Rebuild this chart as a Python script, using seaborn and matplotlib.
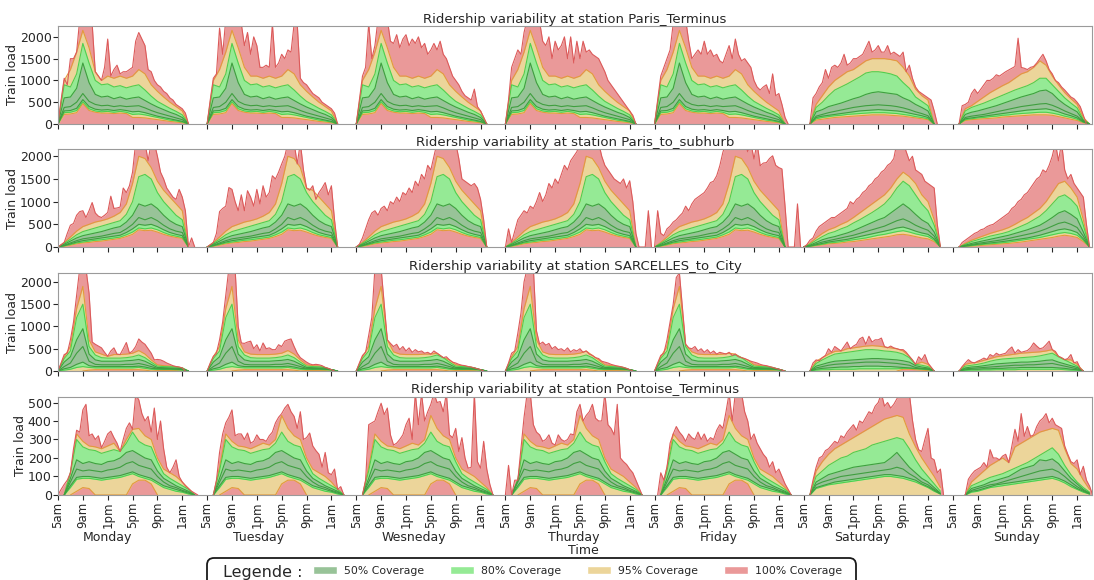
import numpy as np
import matplotlib
matplotlib.use("Agg")
import matplotlib.pyplot as plt
import matplotlib.transforms as mtransforms
from matplotlib.patches import FancyBboxPatch, Patch
import seaborn as sns

# ----------------------------------------------------
# Data
# max lines: half-hour steps from 5am (t = 0, 0.5, 1, ...), zero padded
# quantile lines: hourly steps from 5am (t = 0 .. 22)
# ----------------------------------------------------
day_names = ["Monday", "Tuesday", "Wesneday", "Thurday", "Friday", "Saturday", "Sunday"]
tick_hours = [0, 4, 8, 12, 16, 20]
tick_names = ["5am", "9am", "1pm", "5pm", "9pm", "1am"]

# --- Paris_Terminus ---
pt_max_mon = [0, 550, 1050, 900, 1500, 1500, 1650, 2400, 2400, 2400, 2400, 2300, 1200, 1100, 1000, 1300, 1950, 1100, 1250, 1350, 1150, 1200, 1200, 1250, 1300, 1900, 2100, 1950, 1800, 1250, 1200, 1000, 900, 850, 750, 700, 600, 550, 450, 400, 350, 250, 0]
pt_max_tue = [0, 550, 1050, 1150, 2200, 1600, 2400, 2400, 2400, 2400, 2400, 2300, 1800, 2100, 1600, 2000, 1800, 1300, 1300, 1350, 1300, 2300, 1300, 1400, 1600, 1500, 1700, 1650, 2300, 2300, 1050, 950, 900, 800, 700, 650, 600, 500, 450, 400, 350, 250, 0]
pt_max_wed = [0, 550, 1100, 1300, 2300, 1500, 1800, 2400, 2400, 2400, 2400, 1900, 1850, 2050, 1750, 1950, 2050, 1800, 1950, 1850, 2000, 1750, 1850, 1600, 1700, 1850, 1700, 1900, 1600, 1500, 1300, 1100, 1000, 900, 750, 650, 600, 550, 800, 400, 300, 150, 0]
pt_max_thu = [0, 550, 1300, 1500, 1700, 1600, 2100, 2400, 2400, 2400, 2400, 2350, 1900, 1800, 2000, 1500, 1900, 1700, 1800, 2000, 1500, 2000, 1400, 1900, 1500, 1900, 1650, 1700, 1600, 1550, 1500, 1350, 1200, 1000, 900, 800, 700, 600, 500, 400, 300, 200, 0]
pt_max_fri = [0, 550, 1100, 1300, 1500, 1700, 2300, 2400, 2400, 2400, 2400, 1900, 1500, 1600, 1700, 1600, 1900, 1600, 1700, 1550, 1600, 1450, 1400, 1600, 1800, 1500, 1950, 1600, 1450, 1500, 1400, 1300, 1000, 850, 780, 850, 900, 700, 1150, 650, 700, 450, 150, 0]
pt_max_sat = [0, 0, 0, 600, 700, 850, 950, 1250, 1050, 1300, 1350, 1300, 1400, 1600, 1350, 1400, 1500, 1500, 1550, 1600, 1750, 1900, 1650, 1700, 1800, 1650, 1650, 1800, 1600, 1650, 1600, 1550, 1650, 1200, 1350, 1050, 850, 750, 700, 650, 600, 550, 300, 0]
pt_max_sun = [0, 0, 0, 420, 450, 500, 700, 800, 700, 800, 900, 1000, 1000, 1050, 1130, 1100, 1150, 1200, 1240, 1280, 1320, 1970, 1300, 1280, 1250, 1300, 1320, 1400, 1500, 1600, 1450, 1250, 1150, 1000, 950, 850, 780, 700, 620, 580, 500, 400, 200, 0]

pt_wk_hi95 = [0, 1000, 1250, 1650, 2150, 1750, 1300, 1100, 1100, 1050, 1100, 1050, 1100, 1250, 1150, 900, 750, 620, 500, 400, 300, 0, 0]
pt_wk_hi80 = [0, 900, 850, 1150, 1850, 1400, 1000, 900, 920, 850, 880, 830, 870, 900, 780, 640, 520, 440, 360, 290, 210, 0, 0]
pt_wk_hi50 = [0, 600, 620, 820, 1400, 950, 680, 620, 640, 580, 620, 570, 600, 620, 540, 460, 390, 330, 270, 220, 150, 0, 0]
pt_wk_med = [0, 380, 400, 500, 700, 520, 450, 420, 430, 400, 420, 400, 410, 420, 370, 310, 260, 220, 180, 140, 100, 0, 0]
pt_wk_lo50 = [0, 300, 310, 360, 560, 400, 340, 320, 330, 310, 330, 310, 280, 290, 260, 220, 180, 150, 120, 90, 60, 0, 0]
pt_wk_lo80 = [0, 260, 270, 310, 510, 350, 300, 280, 290, 270, 290, 270, 220, 230, 210, 180, 150, 120, 90, 70, 45, 0, 0]
pt_wk_lo95 = [0, 220, 230, 260, 470, 310, 270, 250, 250, 240, 250, 240, 150, 150, 140, 120, 100, 80, 60, 45, 30, 0, 0]

pt_sat_hi95 = [0, 0, 450, 650, 850, 1000, 1100, 1200, 1250, 1350, 1450, 1500, 1500, 1500, 1480, 1450, 1300, 1100, 800, 650, 550, 0, 0]
pt_sat_hi80 = [0, 0, 380, 500, 650, 780, 850, 920, 1000, 1080, 1170, 1200, 1200, 1180, 1150, 1100, 950, 820, 620, 520, 420, 0, 0]
pt_sat_hi50 = [0, 0, 280, 330, 400, 440, 480, 530, 580, 620, 680, 720, 740, 720, 700, 680, 600, 540, 450, 380, 300, 0, 0]
pt_sat_med = [0, 0, 180, 220, 260, 290, 320, 350, 380, 400, 420, 430, 440, 430, 420, 400, 370, 330, 280, 240, 190, 0, 0]
pt_sat_lo50 = [0, 0, 150, 180, 200, 220, 240, 260, 280, 300, 310, 320, 330, 320, 310, 300, 280, 250, 220, 190, 150, 0, 0]
pt_sat_lo80 = [0, 0, 120, 150, 170, 190, 200, 220, 230, 240, 250, 260, 260, 260, 250, 240, 220, 200, 170, 150, 120, 0, 0]
pt_sat_lo95 = [0, 0, 90, 110, 130, 150, 160, 170, 180, 190, 200, 210, 210, 210, 200, 190, 180, 160, 140, 120, 100, 0, 0]

pt_sun_hi95 = [0, 0, 350, 420, 520, 620, 720, 800, 880, 950, 1050, 1150, 1200, 1300, 1450, 1350, 1100, 900, 720, 580, 450, 150, 0]
pt_sun_hi80 = [0, 0, 300, 380, 430, 480, 540, 600, 660, 720, 780, 830, 880, 950, 1050, 1050, 900, 750, 600, 480, 370, 100, 0]
pt_sun_hi50 = [0, 0, 220, 270, 300, 340, 380, 420, 470, 520, 570, 620, 660, 700, 760, 780, 700, 560, 450, 360, 280, 80, 0]
pt_sun_med = [0, 0, 150, 180, 200, 220, 250, 280, 310, 340, 370, 400, 420, 440, 460, 470, 430, 370, 300, 240, 180, 60, 0]
pt_sun_lo50 = [0, 0, 120, 140, 160, 180, 200, 220, 240, 260, 280, 300, 320, 330, 340, 350, 320, 280, 230, 190, 140, 50, 0]
pt_sun_lo80 = [0, 0, 100, 120, 140, 150, 170, 180, 200, 210, 230, 240, 250, 260, 270, 270, 250, 220, 180, 150, 110, 40, 0]
pt_sun_lo95 = [0, 0, 80, 100, 110, 120, 130, 140, 160, 170, 180, 190, 200, 210, 210, 210, 200, 170, 140, 110, 80, 30, 0]

# --- Paris_to_subhurb ---
ps_max_mon = [0, 50, 100, 300, 480, 520, 700, 780, 800, 650, 800, 980, 750, 680, 650, 700, 760, 1120, 850, 860, 880, 1300, 1200, 1350, 1650, 2300, 2300, 2300, 2300, 1900, 2300, 2300, 2000, 1650, 1500, 1300, 1200, 1100, 1050, 1270, 1100, 800, 0, 200, 0]
ps_max_tue = [0, 50, 100, 300, 780, 850, 900, 1310, 1270, 1000, 800, 1150, 800, 1240, 1100, 900, 1270, 950, 1350, 1100, 1200, 1570, 1500, 1650, 1830, 2000, 2300, 2300, 2300, 1830, 2300, 1700, 1300, 1250, 1350, 1050, 1200, 1300, 1420, 1150, 1350, 600, 0]
ps_max_wed = [0, 60, 200, 400, 600, 750, 800, 700, 850, 900, 800, 1000, 950, 1100, 1000, 1200, 1150, 1300, 1200, 1450, 1350, 1600, 1500, 1800, 1700, 2000, 2300, 2300, 2300, 2300, 2300, 2300, 2300, 1950, 1500, 1450, 1400, 1350, 1400, 1300, 1050, 600, 0]
ps_max_thu = [0, 400, 100, 350, 600, 700, 800, 750, 900, 850, 1000, 1200, 1000, 1150, 1400, 1300, 1500, 1400, 1600, 1800, 1700, 1900, 2000, 2100, 2300, 2300, 2300, 2300, 2300, 2300, 2300, 2000, 1800, 1700, 1600, 1500, 1450, 1400, 1500, 1300, 1460, 1000, 300, 0, 0, 0, 800, 0]
ps_max_fri = [0, 800, 300, 250, 400, 460, 550, 600, 680, 750, 900, 800, 950, 1050, 1100, 1150, 1200, 1300, 1420, 1450, 1570, 1790, 2090, 2300, 2300, 2300, 2300, 2300, 2300, 2300, 2100, 2300, 1940, 2300, 1790, 1850, 1860, 1950, 2010, 1800, 1750, 1720, 900, 0, 0, 0, 950, 0]
ps_max_sat = [0, 50, 150, 200, 350, 450, 500, 550, 600, 650, 650, 700, 750, 800, 850, 1000, 950, 1050, 1100, 1200, 1250, 1350, 1400, 1500, 1550, 1650, 1700, 1800, 1850, 1950, 2300, 2300, 2300, 2100, 1900, 2000, 1700, 1650, 1600, 1450, 1400, 1350, 1300, 500, 0]
ps_max_sun = [0, 0, 0, 100, 150, 200, 250, 300, 330, 380, 400, 450, 480, 500, 550, 600, 650, 700, 750, 850, 900, 1000, 1050, 1150, 1200, 1300, 1400, 1500, 1550, 1700, 1650, 1800, 2000, 2300, 1900, 2300, 1700, 1500, 1600, 1400, 1300, 1200, 1100, 500, 0]

ps_wk_hi95 = [0, 100, 220, 350, 450, 500, 550, 580, 620, 680, 760, 950, 1400, 2000, 1950, 1750, 1450, 1250, 1100, 950, 800, 0, 0]
ps_wk_hi80 = [0, 80, 170, 270, 340, 380, 420, 460, 500, 540, 580, 720, 1000, 1550, 1600, 1500, 1200, 1000, 850, 700, 600, 0, 0]
ps_wk_hi50 = [0, 60, 130, 200, 250, 280, 310, 340, 380, 420, 450, 550, 700, 950, 900, 950, 850, 700, 580, 500, 450, 0, 0]
ps_wk_med = [0, 40, 90, 140, 180, 200, 220, 240, 270, 300, 320, 400, 500, 650, 600, 650, 580, 480, 400, 350, 320, 0, 0]
ps_wk_lo50 = [0, 30, 70, 110, 140, 160, 180, 200, 220, 240, 260, 320, 400, 500, 480, 500, 450, 380, 320, 280, 250, 0, 0]
ps_wk_lo80 = [0, 25, 55, 90, 110, 130, 150, 160, 180, 200, 220, 270, 330, 420, 400, 420, 380, 320, 270, 240, 210, 0, 0]
ps_wk_lo95 = [0, 15, 40, 70, 90, 100, 120, 130, 150, 170, 190, 230, 280, 380, 360, 370, 330, 280, 240, 210, 190, 0, 0]

ps_sat_hi95 = [0, 80, 200, 300, 380, 430, 500, 560, 650, 750, 850, 950, 1050, 1150, 1300, 1500, 1650, 1550, 1400, 1150, 1000, 600, 0]
ps_sat_hi80 = [0, 60, 150, 230, 300, 340, 400, 450, 530, 600, 680, 760, 850, 950, 1100, 1300, 1450, 1350, 1150, 950, 800, 480, 0]
ps_sat_hi50 = [0, 40, 100, 160, 200, 230, 270, 310, 360, 420, 480, 540, 600, 650, 750, 850, 950, 850, 720, 600, 520, 330, 0]
ps_sat_med = [0, 30, 70, 110, 140, 170, 200, 230, 260, 300, 340, 380, 420, 460, 520, 580, 620, 560, 480, 420, 370, 240, 0]
ps_sat_lo50 = [0, 20, 50, 80, 110, 130, 150, 170, 200, 230, 260, 290, 320, 350, 380, 420, 440, 400, 350, 310, 280, 180, 0]
ps_sat_lo80 = [0, 15, 40, 60, 90, 100, 120, 140, 160, 180, 200, 230, 260, 280, 310, 340, 360, 330, 290, 260, 230, 150, 0]
ps_sat_lo95 = [0, 10, 30, 50, 70, 80, 90, 110, 120, 140, 160, 180, 200, 220, 240, 270, 280, 260, 230, 200, 180, 120, 0]

ps_sun_hi95 = [0, 0, 80, 150, 200, 250, 300, 340, 380, 430, 500, 580, 650, 750, 850, 1000, 1200, 1400, 1450, 1300, 1100, 600, 0]
ps_sun_hi80 = [0, 0, 60, 120, 160, 200, 240, 270, 300, 340, 400, 460, 520, 600, 680, 800, 950, 1100, 1150, 1050, 900, 480, 0]
ps_sun_hi50 = [0, 0, 40, 80, 110, 140, 170, 200, 230, 260, 300, 340, 380, 430, 480, 560, 650, 750, 800, 720, 620, 330, 0]
ps_sun_med = [0, 0, 30, 55, 80, 100, 120, 140, 160, 190, 220, 250, 280, 310, 350, 400, 460, 520, 550, 500, 430, 240, 0]
ps_sun_lo50 = [0, 0, 20, 40, 60, 75, 90, 105, 120, 140, 160, 180, 200, 230, 260, 300, 340, 380, 400, 370, 320, 180, 0]
ps_sun_lo80 = [0, 0, 15, 30, 45, 60, 70, 80, 95, 110, 130, 150, 170, 190, 210, 240, 270, 300, 320, 300, 260, 150, 0]
ps_sun_lo95 = [0, 0, 10, 20, 30, 40, 50, 60, 70, 80, 95, 110, 130, 150, 170, 190, 210, 240, 260, 240, 210, 120, 0]

# --- SARCELLES_to_City ---
sc_max_mon = [0, 180, 370, 400, 700, 1100, 1700, 2300, 2300, 2300, 1750, 650, 600, 560, 520, 420, 330, 450, 520, 380, 370, 500, 640, 400, 450, 550, 720, 650, 600, 500, 400, 250, 260, 250, 220, 180, 150, 120, 100, 90, 70, 0]
sc_max_tue = [0, 180, 330, 400, 700, 1100, 1700, 2300, 2300, 2300, 1000, 630, 620, 650, 670, 500, 590, 450, 630, 500, 520, 480, 480, 590, 550, 670, 700, 720, 550, 400, 300, 250, 200, 160, 140, 150, 140, 120, 80, 60, 30, 0]
sc_max_wed = [0, 180, 350, 420, 800, 1200, 2300, 2300, 2300, 1500, 700, 620, 550, 600, 480, 550, 450, 520, 420, 480, 430, 450, 400, 420, 380, 450, 400, 350, 300, 320, 250, 200, 180, 150, 130, 120, 100, 90, 70, 50, 30, 0]
sc_max_thu = [0, 180, 400, 450, 850, 1300, 2000, 2300, 2300, 2300, 900, 600, 650, 580, 620, 500, 550, 480, 500, 450, 520, 430, 480, 450, 500, 420, 450, 380, 350, 300, 280, 220, 200, 180, 150, 130, 110, 100, 80, 60, 30, 0]
sc_max_fri = [0, 180, 350, 400, 700, 1100, 1500, 2100, 2200, 1400, 600, 520, 500, 550, 450, 500, 420, 480, 400, 450, 380, 420, 400, 380, 420, 350, 380, 320, 300, 280, 250, 220, 200, 180, 150, 130, 120, 100, 80, 60, 40, 20, 0]
sc_max_sat = [0, 0, 0, 180, 250, 230, 300, 350, 500, 420, 550, 500, 450, 550, 650, 500, 560, 600, 720, 760, 600, 780, 650, 700, 700, 740, 550, 520, 560, 520, 500, 480, 480, 420, 330, 250, 150, 320, 250, 370, 180, 90, 0]
sc_max_sun = [0, 0, 0, 100, 180, 255, 200, 180, 220, 250, 290, 260, 370, 330, 400, 360, 380, 400, 480, 540, 400, 480, 420, 440, 460, 520, 630, 560, 500, 520, 590, 670, 480, 440, 330, 300, 255, 280, 370, 180, 210, 60, 0]

sc_wk_hi95 = [0, 320, 550, 1400, 1900, 700, 430, 380, 370, 370, 370, 380, 400, 460, 380, 250, 140, 120, 110, 100, 80, 0, 0]
sc_wk_hi80 = [0, 280, 450, 1200, 1500, 550, 360, 300, 290, 290, 290, 300, 320, 360, 300, 200, 110, 100, 95, 90, 70, 0, 0]
sc_wk_hi50 = [0, 200, 320, 700, 950, 380, 250, 220, 220, 220, 220, 230, 240, 260, 220, 150, 80, 75, 70, 65, 50, 0, 0]
sc_wk_med = [0, 100, 180, 400, 550, 220, 150, 140, 140, 140, 140, 150, 150, 170, 140, 100, 60, 55, 55, 50, 40, 0, 0]
sc_wk_lo50 = [0, 50, 80, 150, 200, 120, 100, 100, 100, 100, 100, 100, 100, 110, 90, 60, 50, 45, 45, 40, 30, 0, 0]
sc_wk_lo80 = [0, 20, 40, 80, 100, 80, 70, 70, 70, 70, 70, 70, 70, 80, 60, 40, 35, 35, 35, 30, 20, 0, 0]
sc_wk_lo95 = [0, 0, 0, 0, 0, 20, 30, 30, 30, 30, 30, 30, 30, 30, 20, 0, 10, 10, 10, 10, 0, 0, 0]

sc_sat_hi95 = [0, 0, 220, 300, 380, 440, 480, 500, 520, 540, 560, 570, 560, 540, 520, 500, 450, 380, 250, 200, 150, 0, 0]
sc_sat_hi80 = [0, 0, 170, 250, 320, 380, 400, 420, 440, 460, 480, 480, 470, 450, 440, 420, 380, 300, 160, 130, 100, 0, 0]
sc_sat_hi50 = [0, 0, 110, 150, 190, 220, 230, 240, 250, 260, 270, 280, 280, 270, 260, 250, 230, 200, 120, 90, 70, 0, 0]
sc_sat_med = [0, 0, 70, 100, 130, 150, 160, 170, 180, 190, 200, 200, 200, 190, 180, 170, 150, 130, 80, 60, 50, 0, 0]
sc_sat_lo50 = [0, 0, 40, 60, 70, 80, 90, 90, 100, 100, 110, 110, 110, 100, 100, 90, 80, 70, 60, 50, 40, 0, 0]
sc_sat_lo80 = [0, 0, 20, 30, 30, 40, 40, 40, 40, 50, 50, 50, 50, 50, 50, 50, 60, 60, 50, 40, 30, 0, 0]
sc_sat_lo95 = [0, 0, 0, 0, 0, 0, 0, 0, 0, 0, 0, 0, 0, 0, 0, 0, 40, 40, 30, 20, 10, 0, 0]

sc_sun_hi95 = [0, 0, 150, 180, 200, 240, 280, 320, 340, 360, 380, 400, 410, 420, 430, 450, 480, 400, 300, 250, 150, 0, 0]
sc_sun_hi80 = [0, 0, 110, 130, 150, 180, 220, 250, 270, 280, 290, 300, 310, 320, 340, 370, 400, 320, 250, 180, 110, 0, 0]
sc_sun_hi50 = [0, 0, 70, 90, 100, 120, 140, 160, 170, 180, 190, 200, 200, 210, 220, 240, 250, 200, 160, 120, 80, 0, 0]
sc_sun_med = [0, 0, 50, 60, 70, 80, 90, 100, 110, 120, 130, 130, 140, 140, 150, 160, 170, 140, 110, 80, 50, 0, 0]
sc_sun_lo50 = [0, 0, 30, 40, 40, 50, 50, 60, 60, 70, 70, 80, 80, 80, 80, 80, 80, 70, 60, 40, 30, 0, 0]
sc_sun_lo80 = [0, 0, 15, 20, 20, 25, 25, 30, 30, 30, 30, 40, 40, 40, 40, 40, 40, 40, 30, 20, 15, 0, 0]
sc_sun_lo95 = [0] * 23

# --- Pontoise_Terminus ---
po_max_mon = [0, 30, 57, 80, 120, 250, 350, 340, 460, 490, 320, 330, 300, 320, 255, 290, 330, 345, 310, 280, 235, 300, 360, 390, 355, 540, 515, 440, 400, 425, 340, 470, 300, 400, 250, 150, 120, 150, 190, 100, 70, 50, 35, 20, 10, 0]
po_max_tue = [0, 0, 0, 80, 230, 330, 390, 420, 460, 320, 330, 330, 300, 335, 280, 290, 325, 300, 300, 290, 320, 340, 390, 420, 440, 470, 490, 450, 425, 360, 450, 300, 310, 335, 265, 240, 220, 150, 230, 120, 110, 140, 30, 45, 0]
po_max_wed = [0, 0, 0, 80, 380, 390, 400, 450, 496, 435, 470, 325, 270, 280, 300, 325, 380, 415, 300, 550, 380, 550, 400, 450, 490, 550, 500, 505, 450, 550, 325, 310, 360, 235, 310, 200, 145, 150, 550, 180, 145, 290, 140, 57, 0]
po_max_thu = [0, 160, 0, 80, 80, 250, 420, 550, 550, 380, 340, 325, 290, 300, 325, 280, 270, 325, 300, 290, 300, 330, 325, 450, 490, 400, 430, 450, 490, 415, 400, 400, 550, 380, 360, 325, 490, 200, 180, 165, 140, 120, 80, 40, 0]
po_max_fri = [0, 0, 120, 80, 150, 280, 330, 370, 340, 320, 290, 330, 310, 300, 340, 300, 330, 290, 310, 300, 350, 380, 360, 450, 550, 400, 550, 550, 550, 450, 400, 300, 330, 280, 250, 220, 200, 150, 180, 120, 140, 100, 60, 30, 0]
po_max_sat = [0, 0, 0, 80, 150, 200, 210, 240, 250, 270, 290, 280, 320, 310, 340, 360, 380, 350, 400, 390, 420, 450, 440, 480, 500, 550, 480, 500, 470, 490, 520, 550, 550, 550, 550, 405, 300, 245, 235, 300, 360, 200, 190, 120, 140, 0]
po_max_sun = [0, 0, 0, 0, 0, 85, 110, 130, 140, 150, 175, 150, 245, 200, 200, 190, 210, 220, 175, 265, 355, 290, 440, 317, 370, 317, 325, 370, 400, 415, 440, 390, 415, 380, 370, 360, 265, 220, 180, 170, 190, 110, 155, 80, 48, 0]

po_wk_hi95 = [0, 0, 150, 330, 290, 265, 260, 250, 265, 280, 270, 300, 430, 360, 320, 300, 200, 140, 120, 100, 70, 40, 0]
po_wk_hi80 = [0, 0, 130, 300, 260, 245, 240, 225, 235, 245, 250, 280, 340, 290, 270, 260, 180, 115, 90, 70, 50, 30, 0]
po_wk_hi50 = [0, 0, 90, 190, 170, 180, 170, 165, 180, 185, 200, 230, 240, 220, 200, 190, 130, 90, 70, 50, 35, 20, 0]
po_wk_med = [0, 0, 70, 140, 130, 135, 130, 125, 135, 140, 150, 170, 180, 160, 150, 140, 100, 70, 50, 40, 25, 15, 0]
po_wk_lo50 = [0, 0, 50, 95, 100, 100, 95, 90, 95, 100, 105, 115, 125, 110, 100, 90, 70, 50, 40, 30, 20, 10, 0]
po_wk_lo80 = [0, 0, 40, 85, 90, 90, 85, 80, 85, 90, 95, 105, 115, 100, 90, 80, 60, 40, 30, 20, 15, 5, 0]
po_wk_lo95 = [0, 0, 0, 20, 40, 35, 0, 0, 0, 0, 0, 0, 60, 80, 80, 60, 0, 0, 0, 0, 0, 0, 0]

po_sat_hi95 = [0, 0, 130, 180, 220, 250, 270, 290, 310, 330, 350, 370, 390, 410, 420, 430, 420, 330, 260, 200, 150, 100, 40]
po_sat_hi80 = [0, 0, 100, 130, 160, 180, 200, 210, 230, 240, 250, 270, 280, 290, 300, 310, 300, 250, 190, 140, 100, 60, 20]
po_sat_hi50 = [0, 0, 70, 90, 110, 120, 130, 140, 150, 155, 160, 165, 170, 175, 200, 230, 190, 150, 120, 90, 70, 40, 10]
po_sat_med = [0, 0, 55, 70, 80, 90, 100, 105, 110, 115, 120, 125, 130, 135, 140, 150, 140, 115, 95, 70, 55, 30, 8]
po_sat_lo50 = [0, 0, 40, 50, 60, 70, 75, 80, 85, 90, 95, 100, 105, 110, 110, 105, 100, 90, 80, 60, 45, 25, 5]
po_sat_lo80 = [0, 0, 35, 45, 55, 60, 65, 70, 75, 80, 85, 90, 95, 100, 100, 95, 90, 80, 70, 55, 40, 20, 5]
po_sat_lo95 = [0] * 23

po_sun_hi95 = [0, 0, 0, 70, 100, 130, 160, 180, 200, 230, 260, 280, 300, 320, 340, 350, 360, 350, 250, 170, 140, 80, 30]
po_sun_hi80 = [0, 0, 0, 50, 65, 80, 95, 105, 115, 130, 145, 160, 175, 195, 215, 235, 255, 220, 160, 110, 70, 40, 15]
po_sun_hi50 = [0, 0, 0, 35, 45, 55, 70, 80, 90, 100, 120, 140, 150, 160, 190, 185, 195, 170, 130, 90, 60, 30, 10]
po_sun_med = [0, 0, 0, 25, 35, 45, 55, 60, 70, 80, 90, 100, 110, 120, 130, 135, 140, 125, 100, 70, 45, 25, 8]
po_sun_lo50 = [0, 0, 0, 20, 25, 35, 45, 55, 60, 65, 70, 75, 80, 85, 90, 95, 100, 90, 75, 55, 35, 20, 5]
po_sun_lo80 = [0, 0, 0, 15, 20, 30, 40, 45, 50, 55, 60, 65, 70, 75, 80, 85, 90, 80, 65, 45, 30, 15, 5]
po_sun_lo95 = [0] * 23

# ----------------------------------------------------
# Panels
# ----------------------------------------------------
panels = [
    ("Ridership variability at station Paris_Terminus", 2250, [0, 500, 1000, 1500, 2000],
     [pt_max_mon, pt_max_tue, pt_max_wed, pt_max_thu, pt_max_fri, pt_max_sat, pt_max_sun],
     [pt_wk_hi95, pt_wk_hi80, pt_wk_hi50, pt_wk_med, pt_wk_lo50, pt_wk_lo80, pt_wk_lo95],
     [pt_sat_hi95, pt_sat_hi80, pt_sat_hi50, pt_sat_med, pt_sat_lo50, pt_sat_lo80, pt_sat_lo95],
     [pt_sun_hi95, pt_sun_hi80, pt_sun_hi50, pt_sun_med, pt_sun_lo50, pt_sun_lo80, pt_sun_lo95]),
    ("Ridership variability at station Paris_to_subhurb", 2160, [0, 500, 1000, 1500, 2000],
     [ps_max_mon, ps_max_tue, ps_max_wed, ps_max_thu, ps_max_fri, ps_max_sat, ps_max_sun],
     [ps_wk_hi95, ps_wk_hi80, ps_wk_hi50, ps_wk_med, ps_wk_lo50, ps_wk_lo80, ps_wk_lo95],
     [ps_sat_hi95, ps_sat_hi80, ps_sat_hi50, ps_sat_med, ps_sat_lo50, ps_sat_lo80, ps_sat_lo95],
     [ps_sun_hi95, ps_sun_hi80, ps_sun_hi50, ps_sun_med, ps_sun_lo50, ps_sun_lo80, ps_sun_lo95]),
    ("Ridership variability at station SARCELLES_to_City", 2200, [0, 500, 1000, 1500, 2000],
     [sc_max_mon, sc_max_tue, sc_max_wed, sc_max_thu, sc_max_fri, sc_max_sat, sc_max_sun],
     [sc_wk_hi95, sc_wk_hi80, sc_wk_hi50, sc_wk_med, sc_wk_lo50, sc_wk_lo80, sc_wk_lo95],
     [sc_sat_hi95, sc_sat_hi80, sc_sat_hi50, sc_sat_med, sc_sat_lo50, sc_sat_lo80, sc_sat_lo95],
     [sc_sun_hi95, sc_sun_hi80, sc_sun_hi50, sc_sun_med, sc_sun_lo50, sc_sun_lo80, sc_sun_lo95]),
    ("Ridership variability at station Pontoise_Terminus", 530, [0, 100, 200, 300, 400, 500],
     [po_max_mon, po_max_tue, po_max_wed, po_max_thu, po_max_fri, po_max_sat, po_max_sun],
     [po_wk_hi95, po_wk_hi80, po_wk_hi50, po_wk_med, po_wk_lo50, po_wk_lo80, po_wk_lo95],
     [po_sat_hi95, po_sat_hi80, po_sat_hi50, po_sat_med, po_sat_lo50, po_sat_lo80, po_sat_lo95],
     [po_sun_hi95, po_sun_hi80, po_sun_hi50, po_sun_med, po_sun_lo50, po_sun_lo80, po_sun_lo95]),
]

hours = np.arange(23)
half_hours = np.arange(48) * 0.5

# colours
RED, RED_LINE = "#ea9999", "#dc5a5a"
YEL, YEL_LINE = "#ecd59a", "#e39a3c"
LGR, LGR_LINE = "#95ea95", "#4fcf4f"
DGR, DGR_LINE = "#98c398", "#3f9f3f"

sns.set_style("white", {"axes.edgecolor": "#9a9a9a", "xtick.bottom": True, "ytick.left": True,
                        "xtick.color": "#262626", "ytick.color": "#262626"})
plt.rcParams['font.family'] = ['DejaVu Sans']
plt.rcParams['xtick.major.size'] = 3.5
plt.rcParams['ytick.major.size'] = 3.5
plt.rcParams['xtick.major.width'] = 0.8
plt.rcParams['ytick.major.width'] = 0.8


def active(y):
    nz = np.nonzero(y)[0]
    if len(nz) == 0:
        return slice(0, 0)
    return slice(max(nz[0] - 1, 0), min(nz[-1] + 2, len(y)))


def draw_day(ax, x0, mx, q):
    mx = np.pad(np.array(mx, float), (0, 48 - len(mx)))
    cap = mx[::2][:23]
    hi95, hi80, hi50, med, lo50, lo80, lo95 = [np.minimum(np.array(v, float), cap) for v in q]
    xh = x0 + hours
    xm = x0 + half_hours
    ax.fill_between(xm, 0, mx, color=RED, lw=0)
    ax.fill_between(xh, lo95, hi95, color=YEL, lw=0)
    ax.fill_between(xh, lo80, hi80, color=LGR, lw=0)
    ax.fill_between(xh, lo50, hi50, color=DGR, lw=0)
    for y, c in [(hi95, YEL_LINE), (lo95, YEL_LINE), (hi80, LGR_LINE), (lo80, LGR_LINE),
                 (hi50, DGR_LINE), (lo50, DGR_LINE), (med, DGR_LINE)]:
        s = active(y)
        ax.plot(xh[s], y[s], color=c, lw=0.8)
    s = active(mx)
    sns.lineplot(x=xm[s], y=mx[s], ax=ax, color=RED_LINE, lw=0.8, legend=False)


fig = plt.figure(figsize=(10.94, 5.8), dpi=100)
bottoms = [0.7862, 0.5741, 0.3603, 0.1466]
axes = []
for k, (title, ytop, yticks, maxes, wk, sat, sun) in enumerate(panels):
    ax = fig.add_axes([0.053, bottoms[k], 0.9452, 0.169])
    for d in range(7):
        q = wk if d < 5 else (sat if d == 5 else sun)
        draw_day(ax, d * 24, maxes[d], q)
    ax.set_xlim(0, 166.4)
    ax.set_ylim(0, ytop)
    ax.set_yticks(yticks)
    ax.set_xticks([d * 24 + h for d in range(7) for h in tick_hours])
    ax.set_title(title, fontsize=9.5, pad=2.5)
    ax.set_ylabel("Train load", fontsize=9, labelpad=0.5)
    ax.set_xlabel("")
    ax.tick_params(axis='y', labelsize=9, pad=1)
    if k < 3:
        ax.tick_params(axis='x', labelbottom=False)
    else:
        ax.set_xticklabels(tick_names * 7, rotation=90, fontsize=8.5)
        ax.tick_params(axis='x', pad=1.5)
    axes.append(ax)

# day names and axis title
trans = mtransforms.blended_transform_factory(axes[3].transData, fig.transFigure)
day_label_x = [8.0, 32.2, 57.2, 83.0, 106.4, 129.4, 154.3]
for name, xp in zip(day_names, day_label_x):
    fig.text(xp, 1 - 537 / 580, name, transform=trans, ha='center', va='center', fontsize=9)
fig.text(583 / 1094, 1 - 551 / 580, "Time", ha='center', va='center', fontsize=9)

# legend
box = FancyBboxPatch((2.07, -0.12), 6.49, 0.34, boxstyle="round,pad=0,rounding_size=0.07",
                     transform=fig.dpi_scale_trans, fill=False, ec="#1a1a1a", lw=1.3, clip_on=False)
fig.add_artist(box)
fig.text(223 / 1094, 1 - 572 / 580, "Legende :", fontsize=11.5, ha='left', va='center')
handles = [Patch(facecolor=DGR, label="50% Coverage"), Patch(facecolor=LGR, label="80% Coverage"),
           Patch(facecolor=YEL, label="95% Coverage"), Patch(facecolor=RED, label="100% Coverage")]
fig.legend(handles=handles, loc='center left', bbox_to_anchor=(313 / 1094, 1 - 571 / 580),
           bbox_transform=fig.transFigure, ncol=4, frameon=False, fontsize=7.8,
           handlelength=2.2, handleheight=0.8, handletextpad=0.65, columnspacing=2.4,
           borderpad=0, borderaxespad=0)

fig.savefig("out.png", dpi=100)
